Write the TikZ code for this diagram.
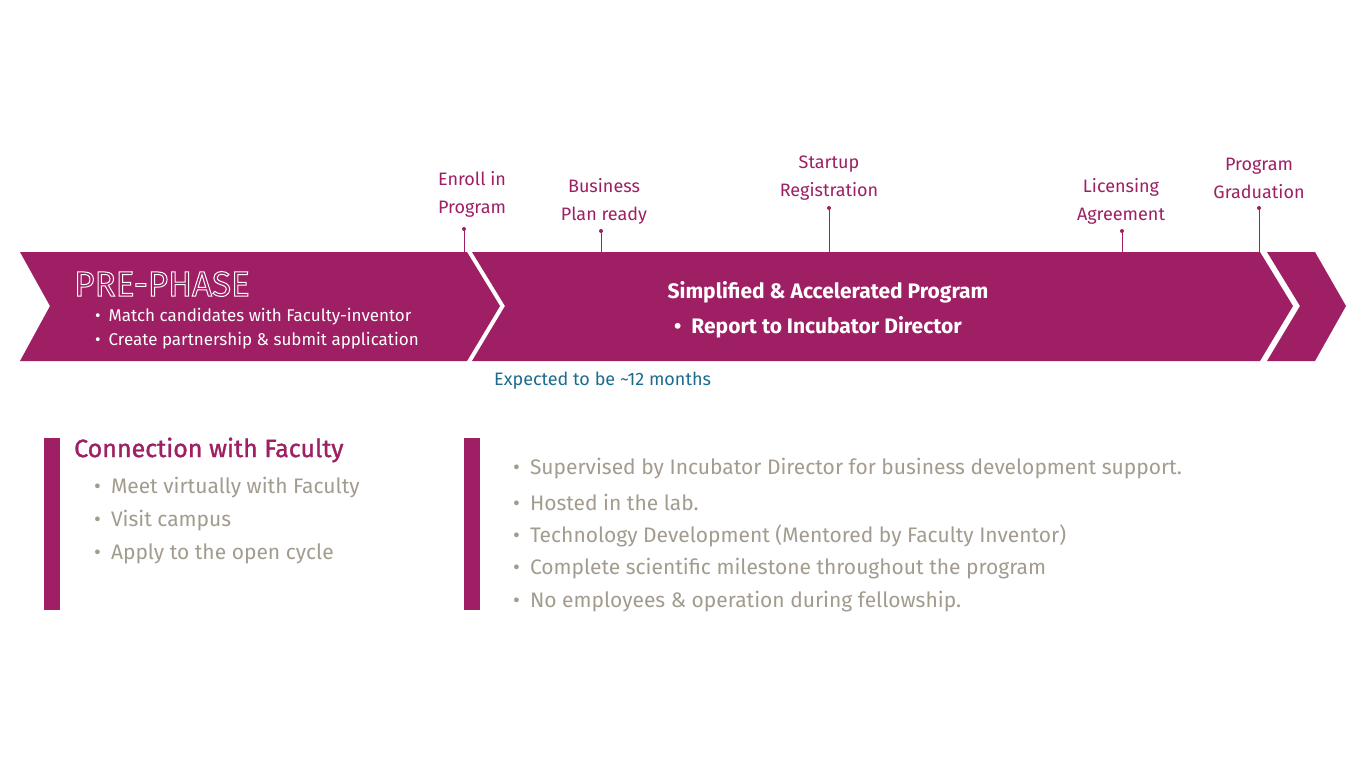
\documentclass[tikz,border=0pt]{standalone}
\usepackage{fontspec}
\setmainfont{Fira Sans}
\definecolor{mag}{HTML}{9E1F63}
\definecolor{teal}{HTML}{1C6C90}
\definecolor{gry}{HTML}{A39C8E}
\begin{document}
\begin{tikzpicture}[x=1pt,y=-1pt,
  band/.style={fill=mag,draw=none},
  ms/.style={mag,line width=0.8pt},
  dotm/.style={fill=mag,draw=none},
  mlab/.style={text=mag,font=\fontsize{18}{28}\selectfont,align=center,inner sep=0pt},
  wt/.style={text=white,anchor=west,inner sep=0pt,font=\fontsize{17}{20}\selectfont},
  gt/.style={text=gry,anchor=west,inner sep=0pt,font=\fontsize{21}{24}\selectfont},
  bar/.style={fill=mag,draw=none}]
\useasboundingbox (0,0) rectangle (1366,768);
\fill[white] (0,0) rectangle (1366,768);
% chevrons
\path[band] (20,252) -- (467,252) -- (500,306) -- (467,361) -- (20,361) -- (50,306) -- cycle;
\path[band] (472,252) -- (1260,252) -- (1293,306) -- (1260,361) -- (472,361) -- (505,306) -- cycle;
\path[band] (1267,252) -- (1315,252) -- (1346,306) -- (1315,361) -- (1267,361) -- (1300,306) -- cycle;
% milestones
\foreach \n/\x/\y in {m1/464/229,m2/601/231,m3/829/208,m4/1122/231,m5/1259/208}{
  \coordinate (\n) at (\x,\y);
  \coordinate (\n b) at (\x,252);
  \draw[ms] (\n) -- (\n b);
  \fill[dotm] (\n) circle (2pt);
}
\node[mlab] (l1) at (472,194) {Enroll in\\Program};
\node[mlab] (l2) at (604,201) {Business\\Plan ready};
\node[mlab] (l3) at (829,178) {Startup\\Registration};
\node[mlab] (l4) at (1121,201) {Licensing\\Agreement};
\node[mlab] (l5) at (1259,178) {Program\\Graduation};
% pre-phase
\node[text=white,anchor=west,inner sep=0pt,font=\fontsize{35}{40}\selectfont] (pp) at (74,284)
  {\special{pdf:literal direct 1 Tr 1 w 1 1 1 RG}PRE-PHASE\special{pdf:literal direct 0 Tr}};
\node[wt] (b1) at (95,317) {\textbullet\hspace{8pt}Match candidates with Faculty-inventor};
\node[wt] (b2) at (95,341) {\textbullet\hspace{8pt}Create partnership \& submit application};
\node[text=white,inner sep=0pt,font=\bfseries\fontsize{21}{24}\selectfont] (s1) at (828,292) {Simplified \& Accelerated Program};
\node[text=white,anchor=west,inner sep=0pt,font=\bfseries\fontsize{21}{24}\selectfont] (s2) at (674,327) {\textbullet\hspace{10pt}Report to Incubator Director};
\node[text=teal,anchor=west,inner sep=0pt,font=\fontsize{18}{20}\selectfont] (ex) at (494,381) {Expected to be \textasciitilde 12 months};
% lower left
\path[bar] (44,438) rectangle (60,610);
\node[text=mag,anchor=west,inner sep=0pt,font=\fontsize{25}{28}\selectfont\mdseries] (ch) at (74,450) {\addfontfeature{FakeBold=1.2}Connection with Faculty};
\node[gt] (g1) at (94,488) {\textbullet\hspace{10pt}Meet virtually with Faculty};
\node[gt] (g2) at (94,521) {\textbullet\hspace{10pt}Visit campus};
\node[gt] (g3) at (94,554) {\textbullet\hspace{10pt}Apply to the open cycle};
% lower right
\path[bar] (464,438) rectangle (480,610);
\node[gt] (r1) at (513,469) {\textbullet\hspace{10pt}Supervised by Incubator Director for business development support.};
\node[gt] (r2) at (513,502) {\textbullet\hspace{10pt}Hosted in the lab.};
\node[gt] (r3) at (513,536) {\textbullet\hspace{10pt}Technology Development (Mentored by Faculty Inventor)};
\node[gt] (r4) at (513,569) {\textbullet\hspace{10pt}Complete scientific milestone throughout the program};
\node[gt] (r5) at (513,602) {\textbullet\hspace{10pt}No employees \& operation during fellowship.};
\end{tikzpicture}
\end{document}
